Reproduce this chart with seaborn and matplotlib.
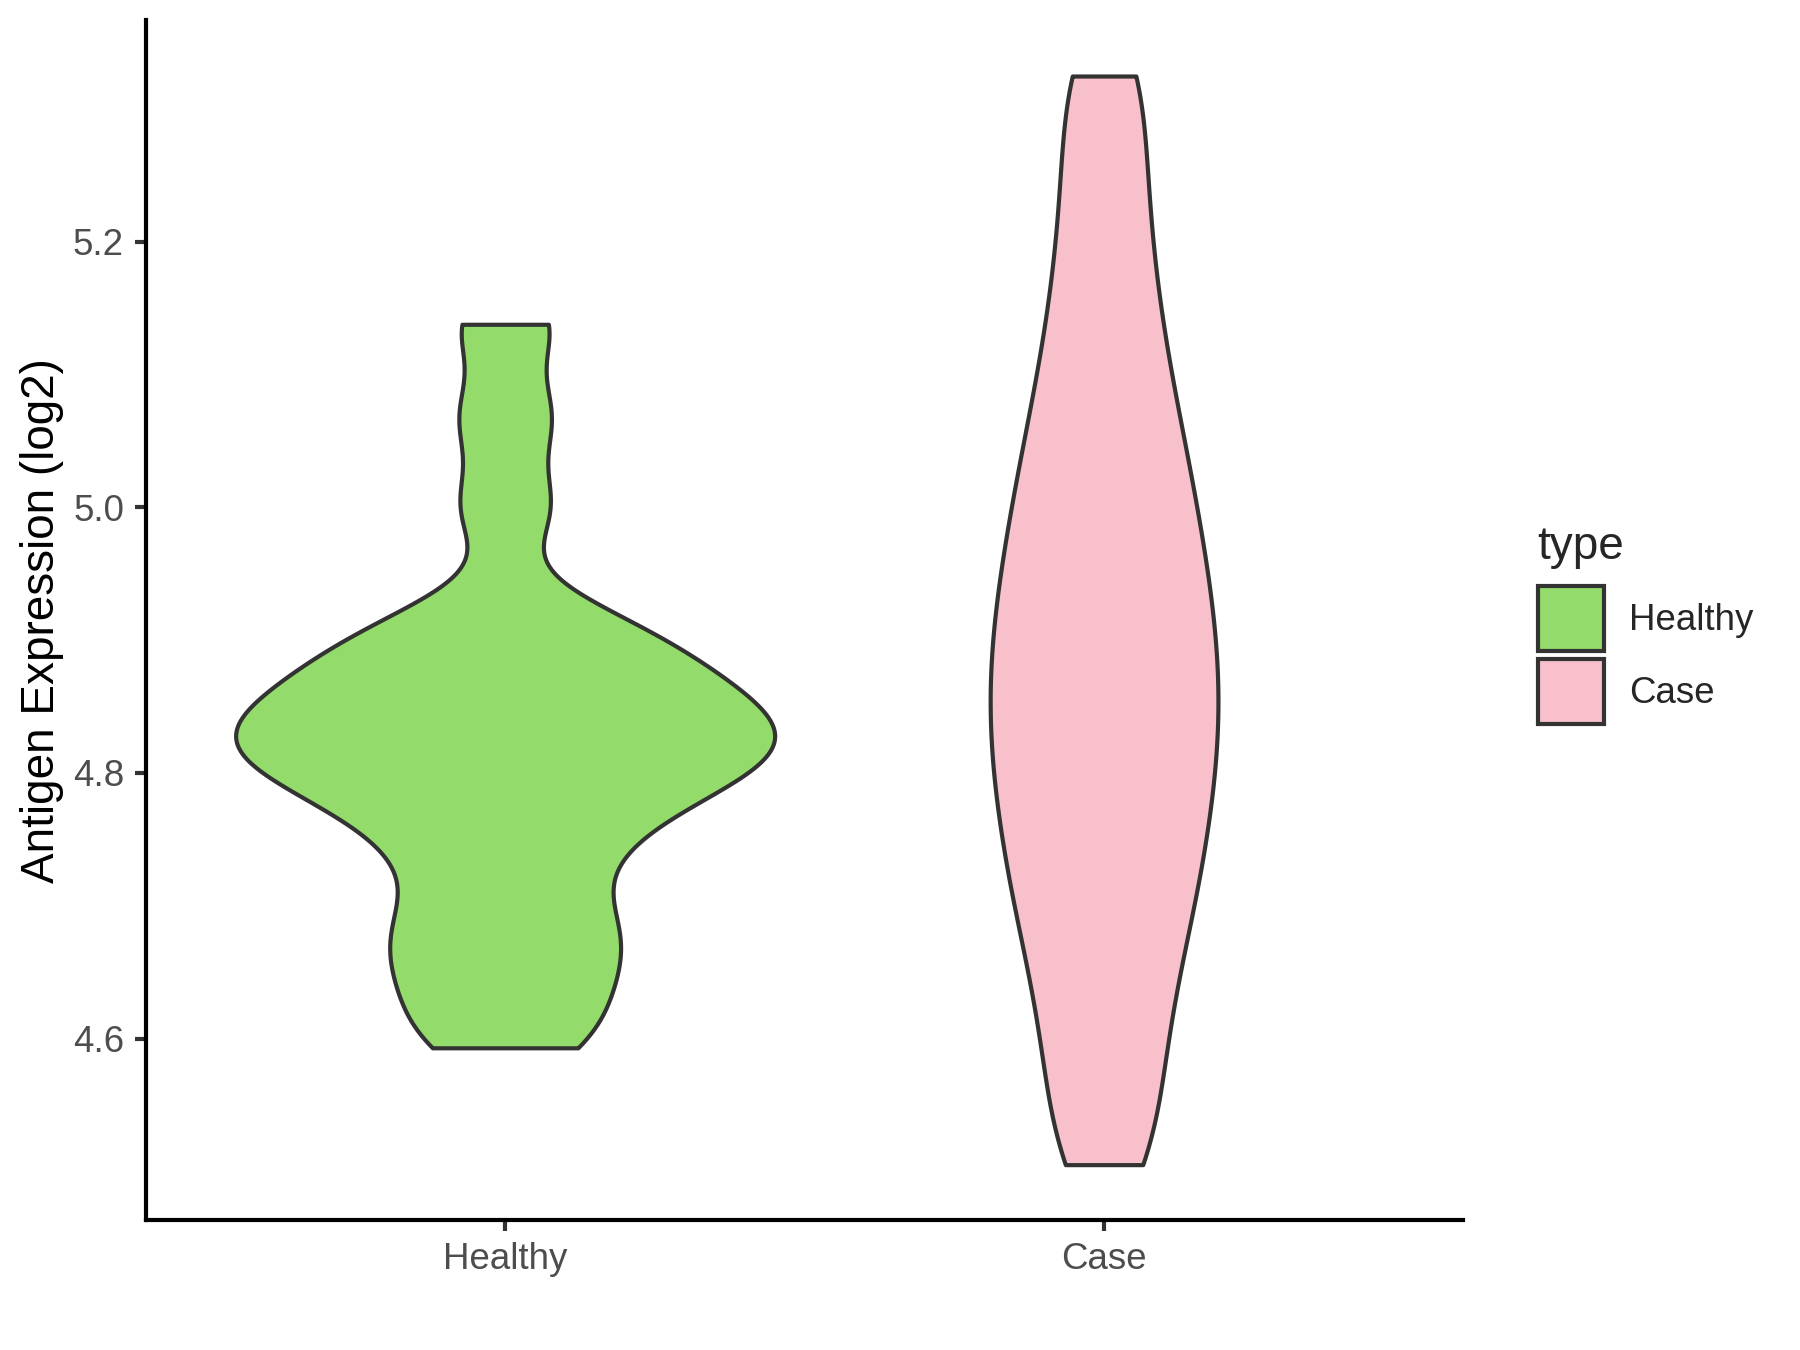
import numpy as np
import pandas as pd
import matplotlib
matplotlib.use("Agg")
import matplotlib.pyplot as plt
from matplotlib.patches import Patch
import seaborn as sns

categories = ["Healthy", "Case"]
colors = {"Healthy": "#93DB6A", "Case": "#F7C0CB"}

healthy_values = [4.593, 4.622, 4.652, 4.675, 4.70, 4.735, 4.76,
                  4.78, 4.795, 4.805, 4.815, 4.825, 4.835, 4.845, 4.855,
                  4.87, 4.885, 4.90, 4.92, 5.00, 5.068, 5.138]
case_values = [4.505, 4.555, 4.60, 4.64, 4.675, 4.705, 4.733, 4.759, 4.784,
               4.808, 4.831, 4.854, 4.877, 4.90, 4.924, 4.949, 4.975, 5.003,
               5.033, 5.066, 5.104, 5.148, 5.20, 5.26, 5.325]

df = pd.DataFrame({
    "type": ["Healthy"] * len(healthy_values) + ["Case"] * len(case_values),
    "value": healthy_values + case_values,
})

sns.set_style("white")
plt.rcParams["font.family"] = ["Liberation Sans", "DejaVu Sans"]

fig = plt.figure(figsize=(12, 9), dpi=150)
ax = fig.add_axes([0.081, 0.096, 0.732, 0.889])

sns.violinplot(data=df, x="type", y="value", hue="type", order=categories,
               hue_order=categories, palette=colors, cut=0, inner=None,
               density_norm="area", common_norm=True, width=0.9,
               linewidth=2.0, linecolor="#333333", bw_method=0.22,
               saturation=1, gridsize=512, legend=False, ax=ax)

ax.set_xlim(-0.6, 1.6)
ax.set_ylim(4.463, 5.367)
ax.set_yticks([4.6, 4.8, 5.0, 5.2])
ax.set_yticklabels(["4.6", "4.8", "5.0", "5.2"])
ax.set_xlabel("")
ax.set_ylabel("Antigen Expression (log2)", fontsize=22, color="black", labelpad=4)
for s in ["top", "right"]:
    ax.spines[s].set_visible(False)
for s in ["left", "bottom"]:
    ax.spines[s].set_color("black")
    ax.spines[s].set_linewidth(2.0)
ax.tick_params(axis="both", which="major", length=5.5, width=2.0,
               color="#333333", labelsize=17.6, labelcolor="#4D4D4D",
               direction="out", pad=5, left=True, bottom=True)

handles = [Patch(facecolor=colors[c], edgecolor="#333333", linewidth=2.0, label=c)
           for c in categories]
leg = fig.legend(handles=handles, title="type", loc="upper left",
                 bbox_to_anchor=(0.844, 0.625), frameon=False,
                 fontsize=17.6, title_fontsize=22, handlelength=1.8,
                 handleheight=2.35, labelspacing=0.22, handletextpad=0.7,
                 borderpad=0, alignment="left")
leg._legend_box.sep = 8.5

fig.savefig("out.png", dpi=150, facecolor="white")
